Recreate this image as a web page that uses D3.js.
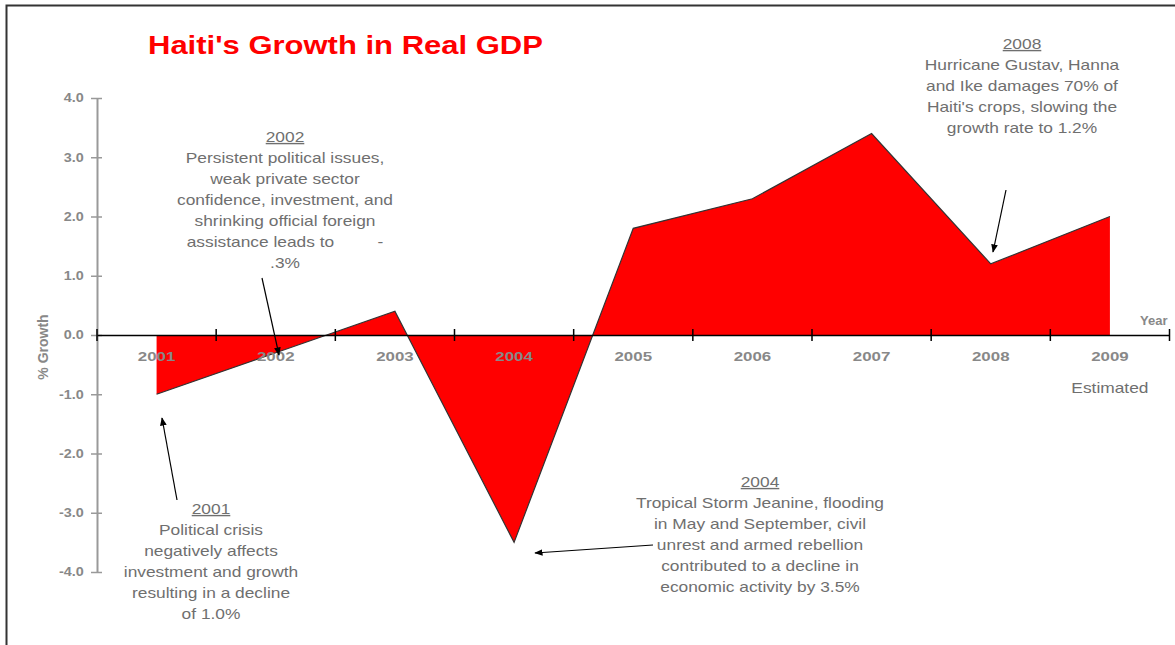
<!DOCTYPE html>
<html>
<head>
<meta charset="utf-8">
<script src="https://cdn.jsdelivr.net/npm/d3@7"></script>
<style>
  body { margin: 0; background: #fff; }
  svg { display: block; font-family: "Liberation Sans", Arial, sans-serif; }
</style>
</head>
<body>
<svg id="chart"></svg>
<script>
// data
var years = ["2001", "2002", "2003", "2004", "2005", "2006", "2007", "2008", "2009"];
var growth = [-1.0, -0.3, 0.4, -3.5, 1.8, 2.3, 3.4, 1.2, 2.0];
var yTicks = [-4, -3, -2, -1, 0, 1, 2, 3, 4];

var notes = [
  { year: "2002", cx: 285, top: 142, lines: ["Persistent political issues,", "weak private sector", "confidence, investment, and", "shrinking official foreign", "assistance leads to         -", ".3%"], from: [262, 278], to: [279, 355] },
  { year: "2001", cx: 211, top: 514, lines: ["Political crisis", "negatively affects", "investment and growth", "resulting in a decline", "of 1.0%"], from: [177, 500], to: [162, 418] },
  { year: "2004", cx: 760, top: 487, lines: ["Tropical Storm Jeanine, flooding", "in May and September, civil", "unrest and armed rebellion", "contributed to a decline in", "economic activity by 3.5%"], from: [653, 545], to: [535, 553] },
  { year: "2008", cx: 1022, top: 49, lines: ["Hurricane Gustav, Hanna", "and Ike damages 70% of", "Haiti's crops, slowing the", "growth rate to 1.2%"], from: [1006, 190], to: [993, 252] }
];

var width = 1175, height = 645;
var sx = 1.24; // the original text is drawn wide
var svg = d3.select("#chart").attr("width", width).attr("height", height);

// text placed at (x,y), stretched sideways
function wideText(parent, px, py, str, s) {
  return parent.append("text")
    .attr("transform", "translate(" + px + "," + py + ") scale(" + (s || sx) + ",1)")
    .attr("xml:space", "preserve")
    .text(str);
}

// frame
svg.append("path")
  .attr("d", "M6.5," + height + "V5.5H" + width)
  .attr("fill", "none")
  .attr("stroke", "#333")
  .attr("stroke-width", 2);

svg.append("defs").append("marker")
  .attr("id", "arrow")
  .attr("viewBox", "0 0 10 10")
  .attr("refX", 9).attr("refY", 5)
  .attr("markerWidth", 7).attr("markerHeight", 7)
  .attr("orient", "auto")
  .append("path")
  .attr("d", "M0,1L10,5L0,9Z")
  .attr("fill", "#000");

var x = d3.scaleBand().domain(years).range([97, 1169.5]);
var y = d3.scaleLinear().domain([-4, 4]).range([572, 98]);

function cx(d) { return x(d) + x.bandwidth() / 2; }

// area
var pts = years.map(function (d, i) { return [cx(d), growth[i]]; });
var area = d3.area()
  .x(function (d) { return d[0]; })
  .y0(y(0))
  .y1(function (d) { return y(d[1]); });
var line = d3.line()
  .x(function (d) { return d[0]; })
  .y(function (d) { return y(d[1]); });

svg.append("path").datum(pts)
  .attr("d", area)
  .attr("fill", "#ff0000");
svg.append("path").datum(pts)
  .attr("d", line)
  .attr("fill", "none")
  .attr("stroke", "#333")
  .attr("stroke-width", 1.2);

// y axis
var yAxis = svg.append("g")
  .attr("transform", "translate(97,0)")
  .call(d3.axisLeft(y).tickValues(yTicks).tickSize(0).tickPadding(11)
    .tickFormat(function (d) { return d.toFixed(1); }));
yAxis.select(".domain").attr("stroke", "#999").attr("stroke-width", 2);
yAxis.selectAll(".tick line").attr("x1", -6).attr("x2", 5).attr("stroke", "#999").attr("stroke-width", 1.5);
yAxis.selectAll(".tick text")
  .attr("transform", "scale(1.2,1)")
  .attr("fill", "#888")
  .style("font-size", "12px")
  .style("font-weight", "bold");

// x axis at zero
var xAxis = svg.append("g")
  .attr("transform", "translate(0," + y(0) + ")")
  .call(d3.axisBottom(x).tickSize(0).tickPadding(17));
xAxis.select(".domain").attr("stroke", "#000").attr("stroke-width", 1.5);
xAxis.selectAll(".tick text")
  .attr("transform", "scale(1.3,1)")
  .attr("fill", "#888")
  .style("font-size", "13px")
  .style("font-weight", "bold");
var bounds = [x.range()[0]].concat(years.map(function (d) { return x(d) + x.bandwidth(); }));
xAxis.selectAll(".bound").data(bounds).enter().append("line")
  .attr("x1", function (d) { return d; })
  .attr("x2", function (d) { return d; })
  .attr("y1", -6).attr("y2", 6)
  .attr("stroke", "#000").attr("stroke-width", 1.5);

// labels
wideText(svg, 148, 54, "Haiti's Growth in Real GDP")
  .attr("fill", "#ff0000")
  .style("font-size", "25px")
  .style("font-weight", "bold");

wideText(svg, 1140, 325, "Year", 1.0)
  .attr("fill", "#888")
  .style("font-size", "13px")
  .style("font-weight", "bold");

svg.append("text")
  .attr("transform", "translate(48,347) rotate(-90)")
  .attr("text-anchor", "middle")
  .attr("fill", "#888")
  .style("font-size", "14px")
  .style("font-weight", "bold")
  .text("% Growth");

wideText(svg, cx("2009"), 393, "Estimated")
  .attr("text-anchor", "middle")
  .attr("fill", "#6f6f6f")
  .style("font-size", "14px");

// annotations
var g = svg.selectAll(".note").data(notes).enter().append("g").attr("class", "note");
g.each(function (d) {
  var sel = d3.select(this);
  wideText(sel, d.cx, d.top, d.year)
    .attr("text-anchor", "middle")
    .attr("fill", "#6f6f6f")
    .style("font-size", "14px")
    .style("text-decoration", "underline");
  d.lines.forEach(function (t, i) {
    wideText(sel, d.cx, d.top + 21 * (i + 1), t)
      .attr("text-anchor", "middle")
      .attr("fill", "#6f6f6f")
      .style("font-size", "14px")
      .style("white-space", "pre");
  });
});
g.append("line")
  .attr("x1", function (d) { return d.from[0]; })
  .attr("y1", function (d) { return d.from[1]; })
  .attr("x2", function (d) { return d.to[0]; })
  .attr("y2", function (d) { return d.to[1]; })
  .attr("stroke", "#000")
  .attr("stroke-width", 1.2)
  .attr("marker-end", "url(#arrow)");
</script>
</body>
</html>
